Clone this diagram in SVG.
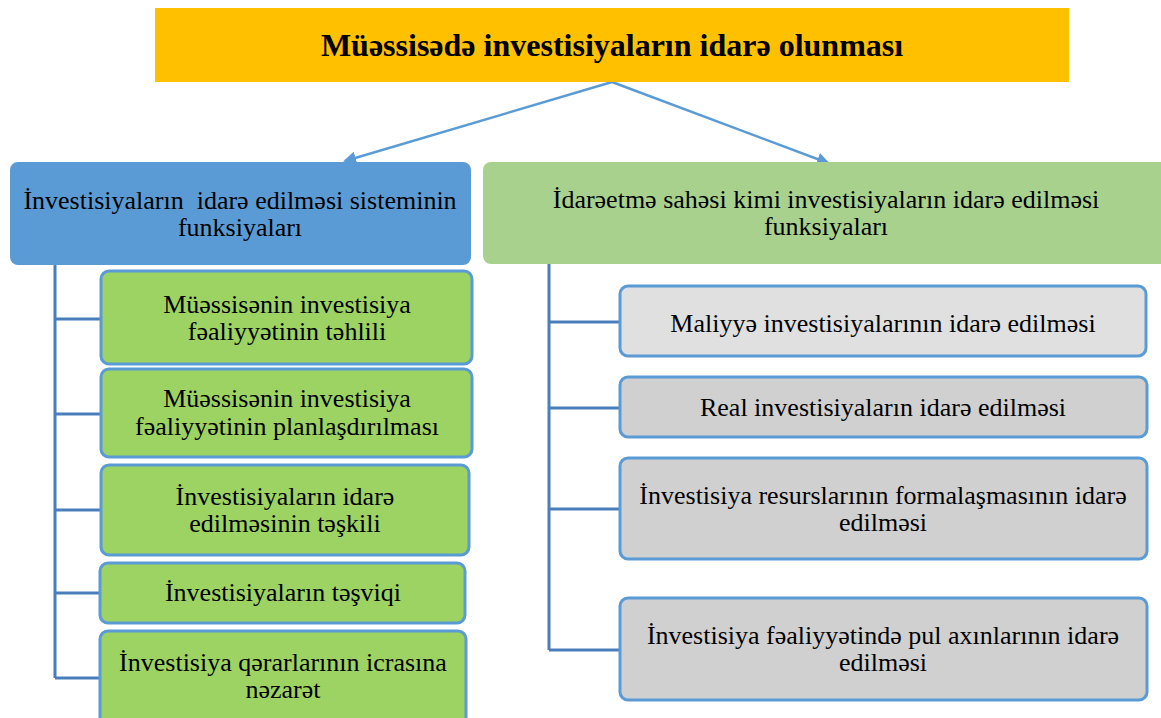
<svg xmlns="http://www.w3.org/2000/svg" width="1161" height="718" viewBox="0 0 1161 718">
<style>
.dgtxt{font-size:26px;fill:#000;text-anchor:middle}
.dghead{font-family:"Liberation Serif","Times New Roman",serif;font-size:32px;font-weight:bold;fill:#000;text-anchor:middle}
.lc{fill:#9DD362;stroke:#5B9BD5;stroke-width:3}
.rc{stroke:#5B9BD5;stroke-width:3}
.tree{fill:none;stroke:#4A7EBB;stroke-width:3}
.arr{stroke:#5B9BD5;stroke-width:2.5;fill:none}
</style>
<defs>
<marker id="ah" markerWidth="13" markerHeight="13" refX="11" refY="6.5" orient="auto" markerUnits="userSpaceOnUse">
<path d="M0,0 L13,6.5 L0,13 z" fill="#5B9BD5"/>
</marker>
</defs>
<rect width="1161" height="718" fill="#fff"/>
<g id="connectors">
<line class="arr" x1="612" y1="82" x2="345" y2="161" marker-end="url(#ah)"/>
<line class="arr" x1="612" y1="82" x2="828" y2="163" marker-end="url(#ah)"/>
<path class="tree" d="M55,265 V678 M55,319 H101 M55,414 H101 M55,510 H101 M55,593 H100 M55,678 H100"/>
<path class="tree" d="M549,264 V650 M549,322 H620 M549,408 H620 M549,509 H620 M549,650 H620"/>
</g>
<g id="root">
<rect x="155" y="8" width="914" height="74" fill="#FFC000"/>
<text class="dghead" x="612" y="56">Müəssisədə investisiyaların idarə olunması</text>
</g>
<g id="left-head">
<rect x="10" y="162" width="461" height="103" rx="8" fill="#5B9BD5"/>
<text class="dgtxt" font-family="Liberation Serif" x="240" y="209">İnvestisiyaların&#160; idarə edilməsi sisteminin</text>
<text class="dgtxt" font-family="Liberation Serif" x="240" y="236">funksiyaları</text>
</g>
<g id="right-head">
<rect x="483" y="162" width="690" height="102" rx="8" fill="#A9D18E"/>
<text class="dgtxt" font-family="Liberation Serif" x="826" y="208">İdarəetmə sahəsi kimi investisiyaların idarə edilməsi</text>
<text class="dgtxt" font-family="Liberation Serif" x="826" y="235">funksiyaları</text>
</g>
<g id="l1">
<rect class="lc" x="101" y="271" width="371" height="93" rx="8"/>
<text class="dgtxt" font-family="Liberation Serif" x="287" y="313">Müəssisənin investisiya</text>
<text class="dgtxt" font-family="Liberation Serif" x="287" y="340">fəaliyyətinin təhlili</text>
</g>
<g id="l2">
<rect class="lc" x="101" y="369" width="371" height="88" rx="8"/>
<text class="dgtxt" font-family="Liberation Serif" x="287" y="407">Müəssisənin investisiya</text>
<text class="dgtxt" font-family="Liberation Serif" x="287" y="435">fəaliyyətinin planlaşdırılması</text>
</g>
<g id="l3">
<rect class="lc" x="101" y="465" width="368" height="90" rx="8"/>
<text class="dgtxt" font-family="Liberation Serif" x="285" y="505">İnvestisiyaların idarə</text>
<text class="dgtxt" font-family="Liberation Serif" x="285" y="532">edilməsinin təşkili</text>
</g>
<g id="l4">
<rect class="lc" x="100" y="563" width="365" height="60" rx="8"/>
<text class="dgtxt" font-family="Liberation Serif" x="283" y="601">İnvestisiyaların təşviqi</text>
</g>
<g id="l5">
<rect class="lc" x="100" y="631" width="366" height="95" rx="8"/>
<text class="dgtxt" font-family="Liberation Serif" x="283" y="671">İnvestisiya qərarlarının icrasına</text>
<text class="dgtxt" font-family="Liberation Serif" x="283" y="698">nəzarət</text>
</g>
<g id="r1">
<rect class="rc" x="620" y="286" width="526" height="70" rx="8" fill="#E0E0E0"/>
<text class="dgtxt" font-family="Liberation Serif" x="883" y="332">Maliyyə investisiyalarının idarə edilməsi</text>
</g>
<g id="r2">
<rect class="rc" x="620" y="377" width="527" height="60" rx="8" fill="#D0D0D0"/>
<text class="dgtxt" font-family="Liberation Serif" x="883" y="416">Real investisiyaların idarə edilməsi</text>
</g>
<g id="r3">
<rect class="rc" x="620" y="458" width="527" height="101" rx="8" fill="#D0D0D0"/>
<text class="dgtxt" font-family="Liberation Serif" x="883" y="504">İnvestisiya resurslarının formalaşmasının idarə</text>
<text class="dgtxt" font-family="Liberation Serif" x="883" y="531">edilməsi</text>
</g>
<g id="r4">
<rect class="rc" x="620" y="598" width="527" height="102" rx="8" fill="#D0D0D0"/>
<text class="dgtxt" font-family="Liberation Serif" x="883" y="644">İnvestisiya fəaliyyətində pul axınlarının idarə</text>
<text class="dgtxt" font-family="Liberation Serif" x="883" y="671">edilməsi</text>
</g>
</svg>
